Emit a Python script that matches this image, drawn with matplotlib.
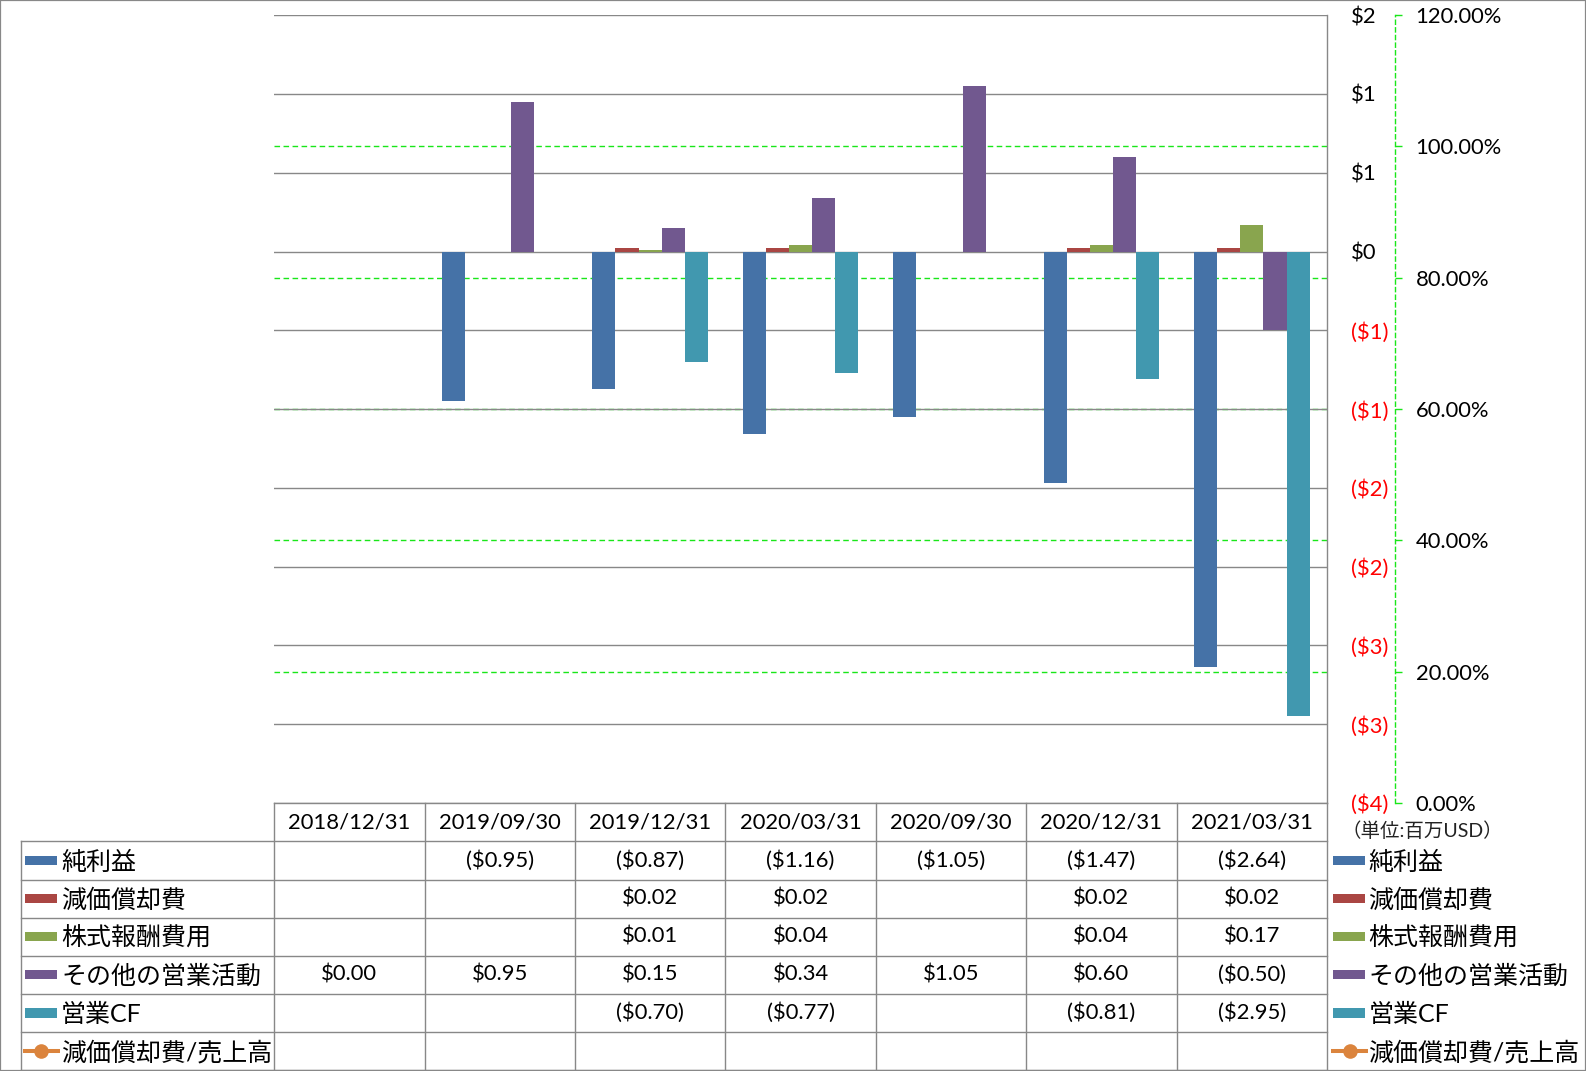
import matplotlib
matplotlib.use("Agg")
import matplotlib.pyplot as plt
from matplotlib.lines import Line2D
import matplotlib.patches as patches
import numpy as np

plt.rcParams['font.family'] = ['Lato', 'Noto Sans CJK JP']

# ---- data ----
dates = ['2018/12/31', '2019/09/30', '2019/12/31', '2020/03/31',
         '2020/09/30', '2020/12/31', '2021/03/31']
series_names = ['純利益', '減価償却費', '株式報酬費用', 'その他の営業活動', '営業CF']
net_income = [None, -0.95, -0.87, -1.16, -1.05, -1.47, -2.64]
depreciation = [None, None, 0.02, 0.02, None, 0.02, 0.02]
stock_comp = [None, None, 0.01, 0.04, None, 0.04, 0.17]
other_ops = [0.00, 0.95, 0.15, 0.34, 1.05, 0.60, -0.50]
operating_cf = [None, None, -0.70, -0.77, None, -0.81, -2.95]
line_name = '減価償却費/売上高'
dep_ratio = [None] * 7
unit_label = '（単位:百万USD）'

bar_series = [net_income, depreciation, stock_comp, other_ops, operating_cf]
bar_colors = ['#4572A7', '#AA4643', '#89A54E', '#71588F', '#4198AF']
line_color = '#DB843D'

money_ticks = np.arange(-3.5, 1.51, 0.5)
pct_ticks = np.arange(0, 1.21, 0.2)

# ---- layout helpers (reference pixel frame) ----
W, H = 1568, 1059
def fx(px):
    return px / W
def fy(py):
    return 1 - py / H

grid_gray = '#888888'
green = '#19E619'
num_size = 15.8
jp_size = 18.0

fig = plt.figure(figsize=(15.86, 10.71), dpi=100)
ax = fig.add_axes([fx(271), fy(794), fx(1312) - fx(271), fy(15) - fy(794)])
ax2 = ax.twinx()
ax.set_zorder(ax2.get_zorder() + 1)
ax.patch.set_visible(False)

# bars
n = len(bar_series)
w = 1 / (n + 1.5)
x = np.arange(len(dates))
for k, (vals, col) in enumerate(zip(bar_series, bar_colors)):
    xs = [xi + (k - (n - 1) / 2) * w for xi, v in zip(x, vals) if v is not None]
    hs = [v for v in vals if v is not None]
    ax.bar(xs, hs, width=w, color=col, zorder=3)

ax.set_xlim(-0.5, len(dates) - 0.5)
ax.set_ylim(money_ticks[0], money_ticks[-1])
ax.set_yticks(money_ticks)

def money_tick(v):
    r = int(abs(v) + 0.5)
    return f'${r}' if v >= 0 else f'(${r})'

ax.yaxis.tick_right()
ax.set_yticklabels([money_tick(v) for v in money_ticks])
ax.tick_params(axis='y', length=0, pad=17, labelsize=num_size)
for tick, v in zip(ax.yaxis.get_major_ticks(), money_ticks):
    tick.label2.set_color('red' if v < 0 else 'black')
ax.set_xticks([])
ax.grid(axis='y', color=grid_gray, lw=1.0, zorder=0)
ax.set_axisbelow(True)
for s in ['top', 'left', 'bottom']:
    ax.spines[s].set_visible(False)
ax.spines['right'].set_color(grid_gray)
ax.spines['right'].set_linewidth(1.0)

# secondary axis (line series has no values)
ax2.set_ylim(pct_ticks[0], pct_ticks[-1])
ax2.set_yticks(pct_ticks)
ax2.set_yticklabels([f'{v * 100:.2f}%' for v in pct_ticks])
ax2.plot(x, [np.nan if v is None else v for v in dep_ratio], color=line_color,
         marker='o')
ax2.hlines(pct_ticks[1:-1], -0.5, len(dates) - 0.5, colors=green, lw=1.0,
           linestyles=(0, (4, 2.5)))
for s in ['top', 'left', 'bottom']:
    ax2.spines[s].set_visible(False)
ax2.spines['right'].set_position(('outward', 48.7))
ax2.spines['right'].set_color(green)
ax2.spines['right'].set_linestyle((0, (3, 2.5)))
ax2.spines['right'].set_linewidth(1.0)
ax2.tick_params(axis='y', direction='out', length=5, width=1.0, color=green,
                pad=10, labelsize=num_size)

# ---- data table ----
def col_fx(xd):
    return fig.transFigure.inverted().transform(ax.transData.transform((xd, 0)))[0]

edges = [col_fx(i - 0.5) for i in range(len(dates) + 1)]
row_h = 37.67
header_top = 794
row_tops = [832 + row_h * i for i in range(n + 2)]
left_x = fx(20.4)

def hline(x0, x1, yy):
    fig.add_artist(Line2D([x0, x1], [yy, yy], transform=fig.transFigure,
                          color=grid_gray, lw=1.0))
def vline(xx, y0, y1):
    fig.add_artist(Line2D([xx, xx], [y0, y1], transform=fig.transFigure,
                          color=grid_gray, lw=1.0))

hline(edges[0], edges[-1], fy(header_top))
for yy in row_tops:
    hline(left_x, edges[-1], fy(yy))
for e in edges:
    vline(e, fy(header_top), fy(row_tops[-1]))
vline(left_x, fy(row_tops[0]), fy(row_tops[-1]))

for i, d in enumerate(dates):
    fig.text((edges[i] + edges[i + 1]) / 2, fy((header_top + row_tops[0]) / 2), d,
             ha='center', va='center', fontsize=num_size)

def money(v):
    return f'${v:.2f}' if v >= 0 else f'(${-v:.2f})'

all_rows = bar_series + [dep_ratio]
all_names = series_names + [line_name]
for r, (vals, name) in enumerate(zip(all_rows, all_names)):
    yc = fy(row_tops[r] + row_h / 2)
    for i, v in enumerate(vals):
        if v is not None:
            fig.text((edges[i] + edges[i + 1]) / 2, yc, money(v),
                     ha='center', va='center', fontsize=num_size)
    # legend keys: inside the table and at the right
    for kx0, kx1, tx in [(24.7, 56.2, 60.5), (1318, 1349.5, 1353)]:
        if r < n:
            fig.add_artist(patches.Rectangle((fx(kx0), yc - 4.6 / H), fx(kx1 - kx0),
                                             9.2 / H, transform=fig.transFigure,
                                             color=bar_colors[r], lw=0))
        else:
            fig.add_artist(Line2D([fx(kx0 - 2), fx(kx1 + 3)], [yc, yc],
                                  transform=fig.transFigure, color=line_color,
                                  lw=2.9, solid_capstyle='butt'))
            fig.add_artist(Line2D([fx((kx0 + kx1) / 2 + 0.5)], [yc],
                                  transform=fig.transFigure, color=line_color,
                                  marker='o', markersize=10.5, markeredgewidth=0))
        fig.text(fx(tx), yc - 1.5 / H, name, ha='left', va='center', fontsize=jp_size)

fig.text(fx(1406), fy(821), unit_label, ha='center', va='center', fontsize=14,
         color='#222222')

# chart border
fig.add_artist(patches.Rectangle((0, 0), 1, 1, transform=fig.transFigure,
                                 fill=False, edgecolor=grid_gray, lw=1.6))

fig.savefig('out.png', dpi=100)
